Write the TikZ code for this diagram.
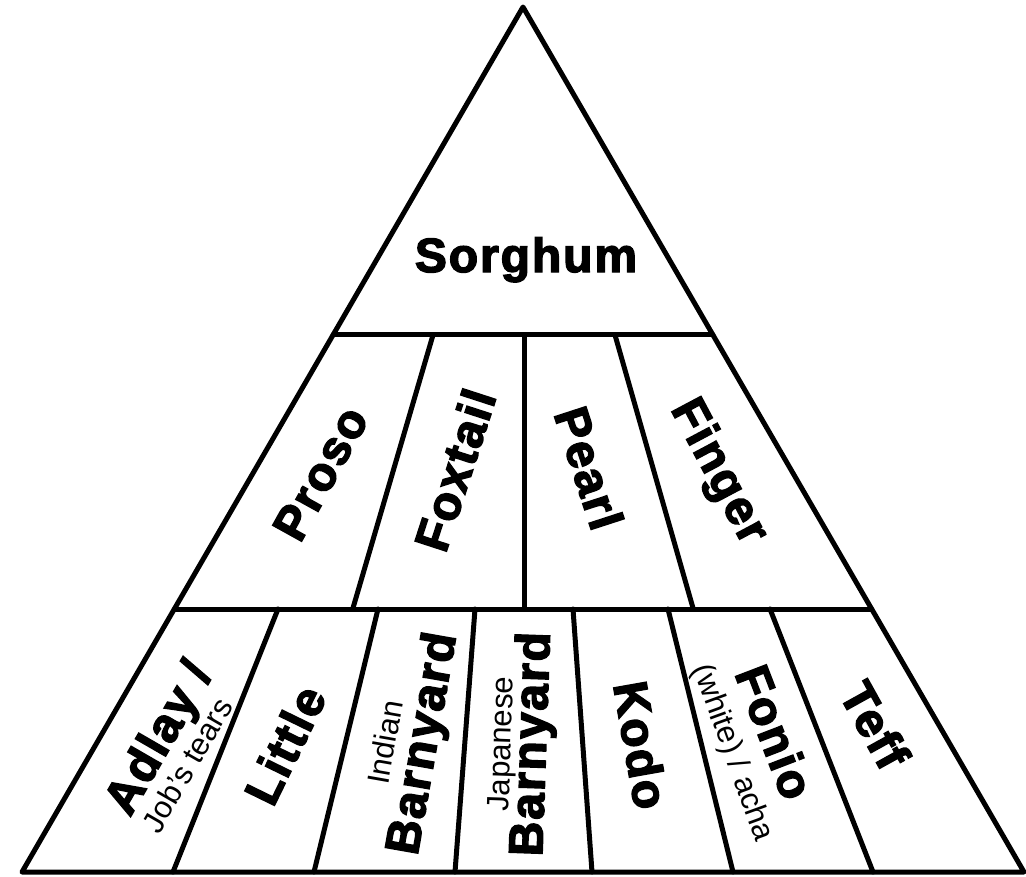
\documentclass[tikz,border=0pt]{standalone}
\usepackage{fontspec}
\setmainfont{Liberation Sans}
\newfontfamily\heavyfont[UprightFont={* Bold},FakeBold=3,LetterSpace=4]{Liberation Sans}
\usetikzlibrary{calc}
\begin{document}
\begin{tikzpicture}[x=1pt,y=-1pt,
  edge/.style={line width=5pt,line join=round,line cap=round},
  big/.style={font=\heavyfont\fontsize{48}{48}\selectfont,inner sep=0pt,text height=34pt,text depth=0pt},
  small/.style={font=\fontsize{31}{31}\selectfont,inner sep=0pt,text height=22pt,text depth=0pt}]
\useasboundingbox (0,0) rectangle (1026,876);
\fill[white] (0,0) rectangle (1026,876);
\coordinate (A) at (523,7);
\coordinate (BL) at (22,872);
\coordinate (BR) at (1024,872);
\coordinate (L1) at ($(A)!0.379!(BL)$);
\coordinate (R1) at ($(A)!0.379!(BR)$);
\coordinate (L2) at ($(A)!0.696!(BL)$);
\coordinate (R2) at ($(A)!0.696!(BR)$);
\draw[edge] (A) -- (BL) -- (BR) -- cycle;
\draw[edge] (L1) -- (R1);
\draw[edge] (L2) -- (R2);
% middle row dividers
\coordinate (m1t) at (433,335); \coordinate (m1b) at (353,608);
\coordinate (m2t) at (524,335); \coordinate (m2b) at (524,608);
\coordinate (m3t) at (615,335); \coordinate (m3b) at (693,608);
\draw[edge] (m1t) -- (m1b);
\draw[edge] (m2t) -- (m2b);
\draw[edge] (m3t) -- (m3b);
% bottom row dividers
\coordinate (b1t) at (278,609); \coordinate (b1b) at (173,872);
\coordinate (b2t) at (378,609); \coordinate (b2b) at (314,872);
\coordinate (b3t) at (475,609); \coordinate (b3b) at (455,872);
\coordinate (b4t) at (573,609); \coordinate (b4b) at (592,872);
\coordinate (b5t) at (668,609); \coordinate (b5b) at (733,872);
\coordinate (b6t) at (770,609); \coordinate (b6b) at (873,872);
\foreach \i in {1,...,6}{\draw[edge] (b\i t) -- (b\i b);}
% labels
\node[big] (sorghum) at (526,255) {Sorghum};
\node[big,rotate=61] (proso) at (320,473) {Proso};
\node[big,rotate=72] (foxtail) at (455,470) {Foxtail};
\node[big,rotate=-72] (pearl) at (589,468) {Pearl};
\node[big,rotate=-62] (finger) at (722,470) {Finger};
\node[big,rotate=60] (adlay) at (157,737) {Adlay /};
\node[small,rotate=60] (jobs) at (187,765) {Job's tears};
\node[big,rotate=64] (little) at (285,745) {Little};
\node[small,rotate=80] (indian) at (385,742) {Indian};
\node[big,rotate=80] (barn1) at (420,743) {Barnyard};
\node[small,rotate=88] (japanese) at (500,744) {Japanese};
\node[big,rotate=88] (barn2) at (529,744) {Barnyard};
\node[big,rotate=-80] (kodo) at (641,745) {Kodo};
\node[big,rotate=-69] (fonio) at (775,732) {Fonio};
\node[small,rotate=-70] (acha) at (735,752) {(white) / acha};
\node[big,rotate=-61] (teff) at (875,725) {Teff};
\end{tikzpicture}
\end{document}
